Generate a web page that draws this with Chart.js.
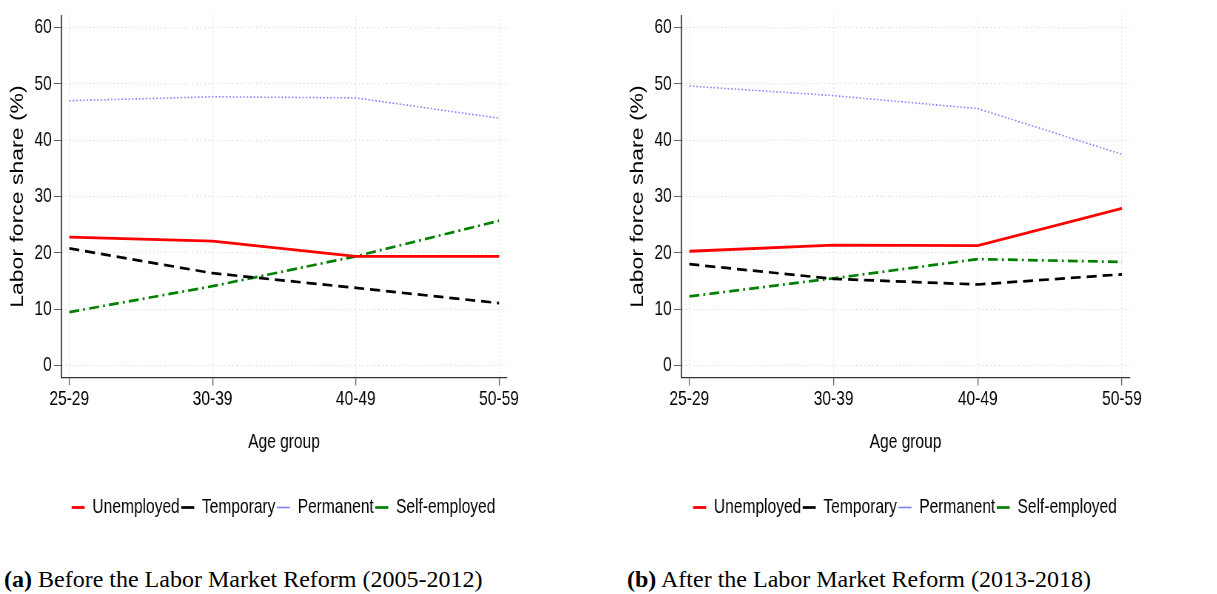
<!DOCTYPE html>
<html>
<head>
<meta charset="utf-8">
<script src="https://cdn.jsdelivr.net/npm/chart.js@4"></script>
<style>
  html, body { margin: 0; padding: 0; background: #fff; }
  body { width: 1217px; height: 594px; position: relative; overflow: hidden; }
  .panel { position: absolute; top: 0; }
  .caption {
    position: absolute; top: 566px; white-space: nowrap;
    font-family: 'Liberation Serif', 'Times New Roman', serif; font-size: 24px; color: #000;
  }
  .caption b { font-weight: bold; }
</style>
</head>
<body>
<!-- the original graph is squeezed horizontally (~0.74), so each canvas is drawn wider and shown narrower -->
<canvas id="chartA" class="panel" width="766" height="528" style="left:0;width:567px;height:528px"></canvas>
<canvas id="chartB" class="panel" width="770" height="528" style="left:620px;width:570px;height:528px"></canvas>
<div class="caption" style="left:4px"><b>(a)</b> Before the Labor Market Reform (2005-2012)</div>
<div class="caption" style="left:627px"><b>(b)</b> After the Labor Market Reform (2013-2018)</div>

<script>
// ── DATA ──
const ageGroups = ['25-29', '30-39', '40-49', '50-59'];
const yTicks = [0, 10, 20, 30, 40, 50, 60];
const seriesNames = ['Unemployed', 'Temporary', 'Permanent', 'Self-employed'];

// (a) 2005-2012
const beforeUnemployed   = [22.8, 22.1, 19.4, 19.4];
const beforeTemporary    = [20.8, 16.4, 13.8, 11.1];
const beforePermanent    = [47.0, 47.7, 47.5, 43.9];
const beforeSelfEmployed = [9.5, 14.1, 19.4, 25.7];

// (b) 2013-2018
const afterUnemployed   = [20.3, 21.4, 21.3, 27.9];
const afterTemporary    = [18.0, 15.4, 14.4, 16.2];
const afterPermanent    = [49.6, 47.9, 45.6, 37.5];
const afterSelfEmployed = [12.3, 15.5, 18.9, 18.4];

Chart.defaults.font.family = "'Liberation Sans', Arial, sans-serif";
Chart.defaults.font.size = 21;
Chart.defaults.color = '#000';

const styles = [
  { borderColor: '#ff0000', borderWidth: 2.8, borderDash: [] },
  { borderColor: '#000000', borderWidth: 2.7, borderDash: [13.5, 8] },
  { borderColor: '#8080ff', borderWidth: 1.6, borderDash: [2, 2.7] },
  { borderColor: '#008000', borderWidth: 2.7, borderDash: [13.5, 5.4, 2.7, 5.4] }
];

function toPoints(arr) {
  return arr.map((v, i) => ({ x: i, y: v }));
}

function makeChart(id, series) {
  const datasets = series.map((s, k) => ({
    label: seriesNames[k],
    data: toPoints(s),
    borderColor: styles[k].borderColor,
    backgroundColor: styles[k].borderColor,
    borderWidth: styles[k].borderWidth,
    borderDash: styles[k].borderDash,
    pointRadius: 0,
    tension: 0,
    fill: false
  }));

  return new Chart(document.getElementById(id), {
    type: 'line',
    data: { datasets },
    options: {
      responsive: false,
      devicePixelRatio: 1,
      animation: false,
      layout: { padding: { top: 15, bottom: 0, left: 0, right: 0 } },
      plugins: {
        tooltip: { enabled: false },
        legend: {
          position: 'bottom',
          labels: {
            usePointStyle: true,
            pointStyle: 'line',
            pointStyleWidth: 17.6,
            padding: 2,
            color: '#000',
            font: { size: 21 }
          }
        }
      },
      scales: {
        x: {
          type: 'linear',
          min: -0.058,
          max: 3.056,
          afterBuildTicks: ax => { ax.ticks = ageGroups.map((_, i) => ({ value: i })); },
          afterFit: ax => { ax.height = 117.5; },
          ticks: {
            padding: 1,
            maxRotation: 0,
            autoSkip: false,
            callback: v => ageGroups[v]
          },
          grid: {
            color: '#cfcfcf', lineWidth: 1.2,
            tickColor: '#666', tickWidth: 1.4, tickBorderDash: [], tickLength: 8
          },
          border: { color: '#333', width: 1.3, dash: [1, 3] },
          title: { display: true, text: 'Age group', padding: { top: 0, bottom: 40 } }
        },
        y: {
          min: -2.1,
          max: 62.1,
          afterBuildTicks: ax => { ax.ticks = yTicks.map(v => ({ value: v })); },
          afterFit: ax => { ax.width = 82.4; },
          ticks: { padding: 3 },
          grid: {
            color: '#cfcfcf', lineWidth: 1,
            tickColor: '#666', tickBorderDash: [], tickLength: 9.5
          },
          border: { color: '#333', width: 1.7, dash: [1.35, 4] },
          title: { display: true, text: 'Labor force share (%)', padding: { top: 10.5, bottom: 0 }, font: { size: 23 } }
        },
        y2: {
          position: 'right',
          min: 0,
          max: 1,
          ticks: { display: false },
          grid: { display: false, drawOnChartArea: false },
          border: { display: false },
          afterFit: ax => { ax.width = 81; }
        }
      }
    }
  });
}

makeChart('chartA', [beforeUnemployed, beforeTemporary, beforePermanent, beforeSelfEmployed]);
makeChart('chartB', [afterUnemployed, afterTemporary, afterPermanent, afterSelfEmployed]);
</script>
</body>
</html>
